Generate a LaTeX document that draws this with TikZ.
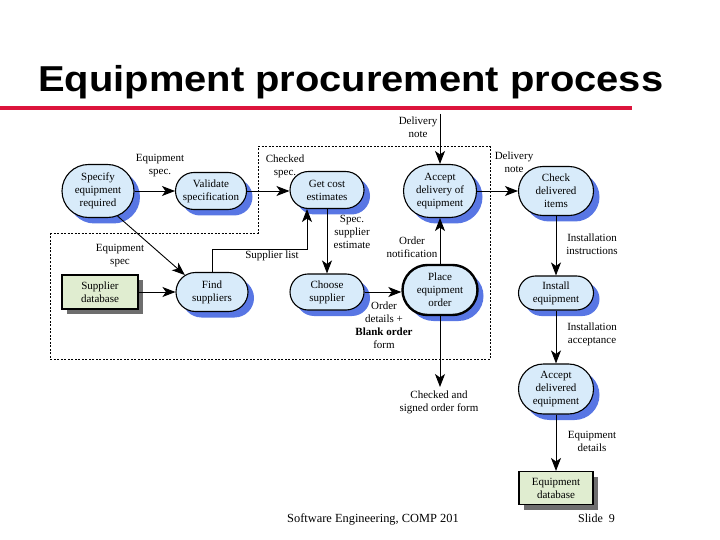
\documentclass[tikz,border=0pt]{standalone}
\usepackage{fontspec}
\setmainfont{Liberation Serif}
\newfontfamily\titlefont{Liberation Sans}
\usetikzlibrary{shapes.misc,shadows,arrows.meta,calc}
\definecolor{nodeblue}{RGB}{216,235,250}
\definecolor{shadowblue}{RGB}{88,118,228}
\definecolor{dbgreen}{RGB}{224,237,208}
\definecolor{dbshadow}{RGB}{110,110,110}
\definecolor{titlered}{RGB}{220,20,60}
\begin{document}
\begin{tikzpicture}[x=1pt,y=-1pt,
  txt/.style={font=\fontsize{11}{13}\selectfont},
  proc/.style={rounded rectangle, draw=black, line width=1.1pt, fill=nodeblue,
    minimum width=#1, inner sep=1pt, align=center, txt,
    drop shadow={shadow xshift=6pt,shadow yshift=-6pt,fill=shadowblue,opacity=1}},
  proc/.default=75pt,
  store/.style={rectangle, draw=black, line width=1.1pt, fill=dbgreen,
    minimum width=76pt, minimum height=34pt, inner sep=1pt, align=center, txt,
    drop shadow={shadow xshift=5pt,shadow yshift=-5pt,fill=dbshadow,opacity=1}},
  lbl/.style={align=center, txt, inner sep=0pt},
  arr/.style={line width=0.9pt, -{Stealth[length=13pt,width=10pt,inset=3.5pt]}},
  bound/.style={line width=1pt, dash pattern=on 2pt off 1.5pt}
]
\useasboundingbox (0,0) rectangle (720,540);
% title
\node[anchor=base west, inner sep=0pt, xscale=1.108, font=\titlefont\bfseries\fontsize{36}{40}\selectfont] (title) at (38,92) {Equipment procurement process};
\draw[titlered, line width=4pt] (0,108) -- (632,108);
% boundary
\draw[bound] (50,233) -- (258,233) -- (258,147) -- (490,147) -- (490,359) -- (50,359) -- cycle;
% nodes
\node[proc=74pt, minimum height=53pt] (spec) at (98,191) {Specify\\equipment\\required};
\node[proc=73pt, minimum height=37pt] (valid) at (211,191) {Validate\\specification};
\node[proc=76pt, minimum height=37pt] (cost) at (327,190) {Get cost\\estimates};
\node[proc=75pt, minimum height=53pt] (accdel) at (440,191) {Accept\\delivery of\\equipment};
\node[proc=77pt, minimum height=49pt] (check) at (556,191) {Check\\delivered\\items};
\node[proc=74pt, minimum height=39pt] (find) at (212,292) {Find\\suppliers};
\node[proc=76pt, minimum height=36pt] (choose) at (327,292) {Choose\\supplier};
\node[proc=77pt, minimum height=50pt, line width=2.4pt] (place) at (440,290) {Place\\equipment\\order};
\node[proc=77pt, minimum height=34pt] (install) at (556,293) {Install\\equipment};
\node[proc=77pt, minimum height=50pt] (acceq) at (556,389) {Accept\\delivered\\equipment};
\node[store] (suppdb) at (100,292) {Supplier\\database};
\node[store, minimum width=74pt, minimum height=33pt] (eqdb) at (556,488) {Equipment\\database};
% free ends
\coordinate (dnin) at (440,114);
\coordinate (formout) at (440,387);
% connectors
\draw[arr] (spec.east) -- (valid.west);
\draw[arr] (valid.east) -- (valid.east -| cost.west);
\draw[arr] (spec.-52) -- (find.148);
\draw[arr] (suppdb.east) -- (suppdb.east -| find.west);
\draw[arr] (find.north) -- (find.north |- 0,249) -| ([xshift=-20pt]cost.south);
\draw[arr] (cost.south) -- (choose.north);
\draw[arr] (choose.east) -- (choose.east -| place.west);
\draw[arr] (place.north) -- (accdel.south);
\draw[arr] (place.south) -- (formout);
\draw[arr] (dnin) -- (accdel.north);
\draw[arr] (accdel.east) -- (accdel.east -| check.west);
\draw[arr] (check.south) -- (install.north);
\draw[arr] (install.south) -- (acceq.north);
\draw[arr] (acceq.south) -- (eqdb.north);
% labels
\node[lbl] (l1) at (160,166) {Equipment\\spec.};
\node[lbl] (l2) at (285,166) {Checked\\spec.};
\node[lbl] (l3) at (120,256) {Equipment\\spec};
\node[lbl] (l4) at (272,256) {Supplier list};
\node[lbl] (l5) at (352,232) {Spec.\\supplier\\estimate};
\node[lbl] (l6) at (412,247) {Order\\notification};
\node[lbl] (l7) at (384,325) {Order\\details +\\\textbf{Blank order}\\form};
\node[lbl] (l8) at (439,402) {Checked and\\signed order form};
\node[lbl] (l9) at (418,127) {Delivery\\note};
\node[lbl] (l10) at (514,162) {Delivery\\note};
\node[lbl] (l11) at (592,244) {Installation\\instructions};
\node[lbl] (l12) at (592,334) {Installation\\acceptance};
\node[lbl] (l13) at (592,441) {Equipment\\details};
% footer
\node[anchor=base west, inner sep=0pt, font=\fontsize{12.4}{15}\selectfont] (foot1) at (287,522) {Software Engineering, COMP 201};
\node[anchor=base west, inner sep=0pt, font=\fontsize{12}{14}\selectfont] (foot2) at (578,522) {Slide~~9};
\end{tikzpicture}
\end{document}
